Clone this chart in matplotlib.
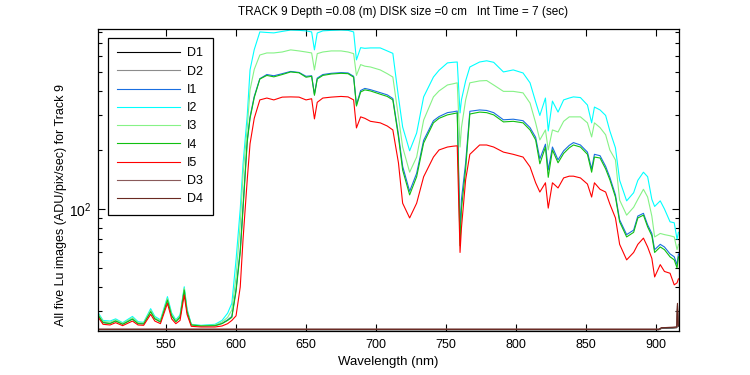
import math
import matplotlib
matplotlib.use("Agg")
import matplotlib.pyplot as plt
from matplotlib.ticker import FixedLocator, NullFormatter, FuncFormatter, LogLocator

plt.rcParams['font.family'] = ['Liberation Sans', 'DejaVu Sans']
plt.rcParams['mathtext.default'] = 'regular'

# ---------------- data ----------------
wavelength = [501, 505, 510, 514, 519, 526, 530, 534, 539, 542,
              546, 551, 554, 557, 560, 563, 565, 568, 575, 585,
              590, 594, 597, 600, 603, 605, 608, 610, 613, 617,
              622, 627, 633, 639, 645, 650, 654, 656, 658, 662,
              668, 675, 680, 684, 686, 689, 692, 696, 703, 708,
              712, 716, 719, 724, 729, 734, 741, 745, 751, 755,
              758, 760, 761, 764, 767, 774, 779, 784, 791, 798,
              805, 810, 814, 817, 821, 823, 826, 830, 834, 838,
              841, 846, 851, 854, 856, 860, 864, 867, 871, 874,
              879, 884, 887, 891, 894, 897, 899, 903, 906, 910,
              913, 915, 916]

I1 = [29.2, 26.4, 26.1, 26.9, 25.9, 27.5, 26.1, 26.0, 30.1, 27.6,
      26.6, 34.5, 28.6, 26.7, 28.1, 38.8, 30.1, 25.7, 25.3, 25.4,
      26.1, 27.2, 28.3, 39, 62, 104, 225, 295, 375, 462,
      485, 478, 490, 503, 497, 475, 478, 385, 465, 485,
      492, 496, 494, 475, 340, 402, 412, 406, 392, 382,
      366, 240, 165, 123, 152, 224, 282, 296, 310, 313,
      316, 78, 112, 172, 315, 320, 318, 310, 285, 287,
      282, 260, 232, 180, 214, 158, 207, 178, 198, 211,
      218, 212, 195, 160, 190, 187, 165, 145, 118, 88,
      74, 78, 92, 95, 83, 75, 62, 66, 64, 59,
      57, 52, 59]

I2 = [30.0, 27.0, 26.8, 27.5, 26.3, 28.3, 26.6, 26.4, 31.0, 28.3,
      27.2, 35.7, 29.5, 27.2, 28.8, 40.1, 31.0, 25.8, 25.5, 25.8,
      27.0, 29.4, 33, 55, 100, 170, 300, 512, 650, 800,
      795, 791, 805, 818, 815, 810, 800, 648, 790, 810,
      815, 818, 815, 800, 576, 665, 660, 663, 663, 640,
      622, 373, 262, 198, 244, 373, 471, 510, 556, 560,
      562, 309, 360, 450, 530, 562, 570, 560, 500, 512,
      494, 440, 352, 300, 368, 250, 355, 312, 360, 368,
      373, 370, 339, 275, 331, 320, 300, 250, 205, 140,
      110, 121, 140, 154, 146, 112, 103, 110, 100, 86,
      85, 70, 76]

I3 = [29.6, 26.7, 26.4, 27.2, 26.1, 27.9, 26.3, 26.2, 30.5, 27.9,
      26.9, 35.0, 29.0, 26.9, 28.4, 39.5, 30.5, 25.7, 25.4, 25.6,
      26.5, 28.0, 30.5, 45, 84, 150, 260, 405, 515, 610,
      625, 625, 632, 648, 640, 632, 625, 512, 620, 632,
      640, 640, 632, 620, 480, 545, 535, 530, 512, 490,
      471, 295, 207, 154, 184, 284, 373, 400, 429, 435,
      440, 207, 260, 360, 440, 450, 452, 429, 398, 398,
      391, 347, 275, 225, 253, 200, 253, 247, 280, 295,
      295, 295, 275, 233, 275, 260, 239, 200, 178, 111,
      93, 102, 112, 126, 115, 92, 72, 75, 74, 73,
      72, 62, 66]

I4 = [29.0, 26.3, 26.0, 26.8, 25.8, 27.4, 26.0, 25.9, 29.9, 27.5,
      26.5, 34.3, 28.5, 26.6, 28.0, 38.6, 30.0, 25.6, 25.3, 25.4,
      26.0, 27.0, 28.0, 38, 60, 100, 220, 290, 370, 460,
      480, 472, 485, 500, 495, 470, 475, 380, 460, 480,
      488, 492, 490, 470, 335, 395, 405, 400, 385, 375,
      360, 233, 158, 118, 146, 217, 275, 290, 302, 306,
      309, 65, 100, 160, 305, 312, 310, 302, 278, 280,
      275, 253, 225, 170, 207, 145, 200, 172, 192, 205,
      212, 207, 190, 154, 184, 182, 160, 141, 115, 86,
      72, 76, 90, 93, 81, 73, 60, 64, 62, 57,
      55, 50, 57]

I5 = [28.4, 25.8, 25.6, 26.3, 25.4, 26.8, 25.6, 25.5, 29.0, 26.8,
      26.0, 33.0, 27.5, 26.0, 27.0, 36.4, 29.0, 25.2, 25.0, 25.0,
      25.3, 26.0, 27.0, 28.5, 40, 70, 141, 215, 290, 360,
      368, 360, 372, 373, 372, 360, 365, 288, 350, 368,
      372, 375, 373, 360, 259, 295, 290, 280, 275, 265,
      253, 172, 107, 90, 107, 146, 184, 200, 207, 209,
      210, 60, 80, 141, 190, 212, 212, 207, 195, 190,
      184, 164, 136, 122, 136, 101, 136, 128, 144, 147,
      147, 144, 134, 115, 136, 126, 122, 106, 90, 66,
      55, 60, 66, 71, 64, 56, 45, 52, 48, 47,
      41, 42, 44]

dark_wavelength = [501, 560, 620, 700, 780, 860, 902, 904, 912, 914.8, 915.3, 915.8, 916.4]
D1 = [24.2, 24.2, 24.2, 24.2, 24.2, 24.2, 24.2, 24.6, 24.7, 24.8, 31.0, 25.2, 25.2]
D2 = [24.3, 24.3, 24.3, 24.3, 24.3, 24.3, 24.3, 24.7, 24.8, 24.9, 32.0, 25.3, 25.3]
D3 = [24.4, 24.4, 24.4, 24.4, 24.4, 24.4, 24.4, 24.8, 24.9, 25.0, 32.5, 25.4, 25.4]
D4 = [24.3, 24.3, 24.3, 24.3, 24.3, 24.3, 24.3, 24.8, 24.9, 25.0, 33.0, 25.5, 25.5]

series_labels = ['D1', 'D2', 'I1', 'I2', 'I3', 'I4', 'I5', 'D3', 'D4']
series_colors = ['#000000', '#8c8c8c', '#1a6ee0', '#00ffff', '#86f286',
                 '#10c010', '#ff0000', '#8a5a5a', '#6a2a22']

x_ticks = [550, 600, 650, 700, 750, 800, 850, 900]
title_text = 'TRACK 9 Depth =0.08 (m) DISK size =0 cm   Int Time = 7 (sec)'
xlabel_text = 'Wavelength (nm)'
ylabel_text = 'All five Lu images (ADU/pix/sec) for Track 9'

# ---------------- figure ----------------
fig = plt.figure(figsize=(7.5, 3.75), dpi=100)
ax = fig.add_axes([98 / 750, 44 / 375, 581 / 750, 302 / 375])

data = {
    'D1': (dark_wavelength, D1), 'D2': (dark_wavelength, D2),
    'I1': (wavelength, I1), 'I2': (wavelength, I2), 'I3': (wavelength, I3),
    'I4': (wavelength, I4), 'I5': (wavelength, I5),
    'D3': (dark_wavelength, D3), 'D4': (dark_wavelength, D4),
}
for lab, col in zip(series_labels, series_colors):
    xs, ys = data[lab]
    ax.plot(xs, ys, color=col, lw=0.8, label=lab)

ax.set_yscale('log')
ax.set_xlim(501.4, 916.4)
ax.set_ylim(23.85, 828)

ax.xaxis.set_major_locator(FixedLocator(x_ticks))
ax.xaxis.set_minor_locator(FixedLocator([]))
ax.yaxis.set_major_locator(LogLocator(base=10))
ax.yaxis.set_minor_locator(LogLocator(base=10, subs=range(2, 10)))
ax.yaxis.set_minor_formatter(NullFormatter())


def decade_label(v, pos):
    e = int(round(math.log10(v)))
    return r'$10^{%d}$' % e


ax.yaxis.set_major_formatter(FuncFormatter(decade_label))

ax.tick_params(axis='both', which='both', direction='in', top=True, right=True,
               labelsize=9, width=0.8)
ax.tick_params(axis='both', which='major', length=5, pad=6)
ax.tick_params(axis='y', which='major', labelsize=10, pad=5)
ax.tick_params(axis='y', which='minor', length=3)
for sp in ax.spines.values():
    sp.set_linewidth(0.9)

ax.set_xlabel(xlabel_text, fontsize=9.5, labelpad=3)
ax.set_ylabel(ylabel_text, fontsize=9)
ax.yaxis.set_label_coords(-31 / 581, (331 - 205) / 302)
fig.text(403 / 750, 1 - 12 / 375, title_text, ha='center', va='center', fontsize=8.5)

leg = ax.legend(loc='upper left', bbox_to_anchor=(10 / 581, 1 - 9 / 302),
                borderaxespad=0, fontsize=9, handlelength=5.0,
                labelspacing=0.5, fancybox=False, framealpha=1,
                edgecolor='black', borderpad=0.75, handletextpad=0.6)
leg.get_frame().set_linewidth(0.9)

fig.savefig('out.png', dpi=100)
